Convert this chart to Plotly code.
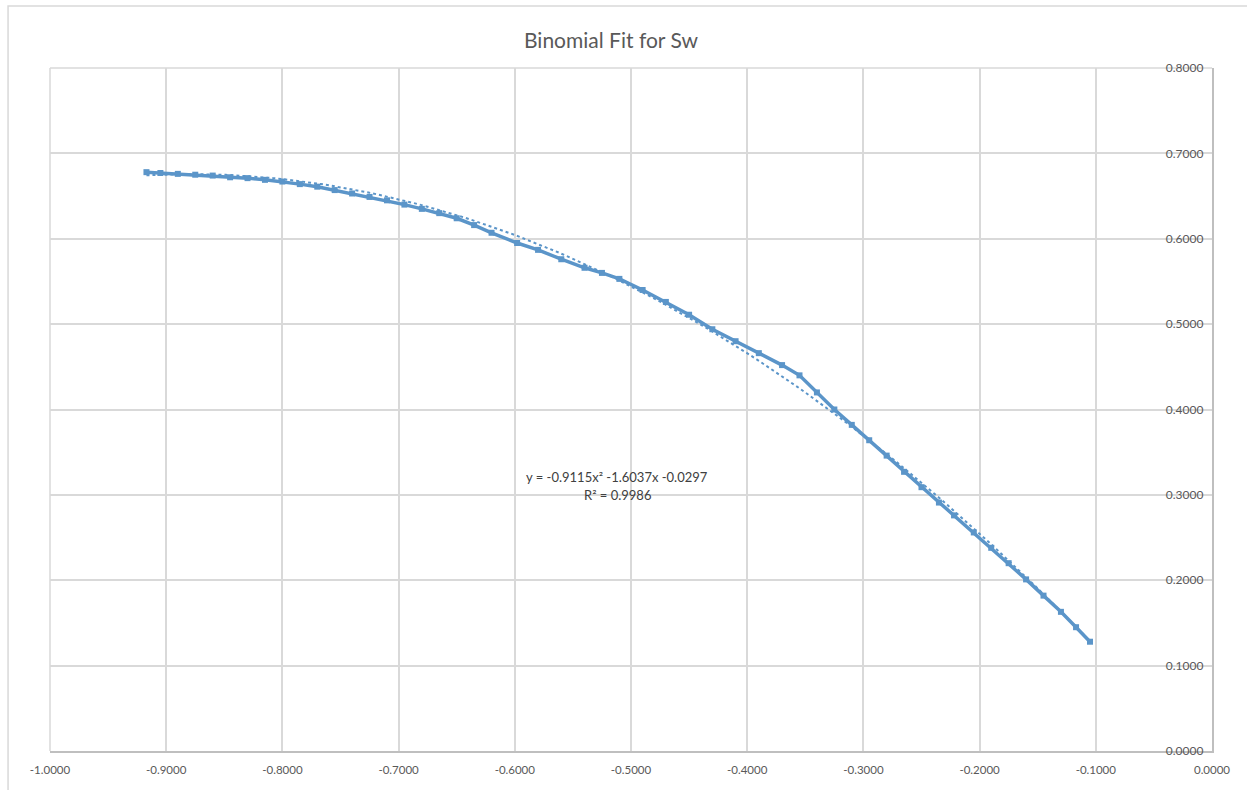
import plotly.graph_objects as go

# Data
sw_x = [-0.917, -0.905, -0.890, -0.875, -0.860, -0.845, -0.830, -0.815, -0.800, -0.785,
        -0.770, -0.755, -0.740, -0.725, -0.710, -0.695, -0.680, -0.665, -0.650, -0.635,
        -0.620, -0.598, -0.580, -0.560, -0.540, -0.525, -0.510, -0.490, -0.470, -0.450,
        -0.430, -0.410, -0.390, -0.370, -0.355, -0.340, -0.325, -0.310, -0.295, -0.280,
        -0.265, -0.250, -0.235, -0.222, -0.205, -0.190, -0.175, -0.160, -0.145, -0.130,
        -0.117, -0.105]
sw_y = [0.678, 0.677, 0.676, 0.675, 0.674, 0.672, 0.671, 0.669, 0.667, 0.664,
        0.661, 0.657, 0.653, 0.649, 0.645, 0.640, 0.635, 0.630, 0.624, 0.616,
        0.607, 0.595, 0.587, 0.576, 0.566, 0.560, 0.553, 0.540, 0.526, 0.511,
        0.494, 0.480, 0.466, 0.452, 0.440, 0.420, 0.400, 0.382, 0.364, 0.346,
        0.327, 0.309, 0.291, 0.276, 0.256, 0.238, 0.220, 0.201, 0.182, 0.163,
        0.145, 0.128]

# Trendline coefficients as printed on the chart (a, b, c for a*x^2 + b*x + c)
trend_coef = [-0.9115, -1.6037, -0.0297]
trend_x_range = [-0.917, -0.105]

x_tick_vals = [-1.0, -0.9, -0.8, -0.7, -0.6, -0.5, -0.4, -0.3, -0.2, -0.1, 0.0]
x_tick_text = ["-1.0000", "-0.9000", "-0.8000", "-0.7000", "-0.6000", "-0.5000",
               "-0.4000", "-0.3000", "-0.2000", "-0.1000", "0.0000"]
y_tick_vals = [0.0, 0.1, 0.2, 0.3, 0.4, 0.5, 0.6, 0.7, 0.8]
y_tick_text = ["0.0000", "0.1000", "0.2000", "0.3000", "0.4000", "0.5000",
               "0.6000", "0.7000", "0.8000"]

title_text = "Binomial Fit for Sw"
eq_text = "y = -0.9115x² -1.6037x -0.0297"
r2_text = "R² = 0.9986"

COLOR = "#5B95C9"
FONT = "Lato"

n = 120
tx = [trend_x_range[0] + (trend_x_range[1] - trend_x_range[0]) * i / (n - 1) for i in range(n)]
ty = [trend_coef[0] * v * v + trend_coef[1] * v + trend_coef[2] for v in tx]

fig = go.Figure()
fig.add_trace(go.Scatter(x=tx, y=ty, mode="lines",
                         line=dict(color=COLOR, width=2, dash="dot"),
                         showlegend=False, hoverinfo="skip"))
fig.add_trace(go.Scatter(x=sw_x, y=sw_y, mode="lines+markers",
                         line=dict(color=COLOR, width=3.5),
                         marker=dict(color=COLOR, size=6, symbol="square"),
                         showlegend=False))

fig.update_layout(
    width=1247, height=790,
    margin=dict(l=50, r=35, t=68, b=39),
    paper_bgcolor="white", plot_bgcolor="white",
    font=dict(family=FONT, color="#595959", size=11),
    xaxis=dict(range=[-1.0, 0.0], tickvals=x_tick_vals, ticktext=x_tick_text,
               showgrid=True, gridcolor="#D9D9D9", gridwidth=1.5,
               zeroline=False, showline=True, linecolor="#BFBFBF", linewidth=2,
               ticks="", tickfont=dict(size=11.5, color="#595959"),
               ticklabeloverflow="allow", ticklabelstandoff=7),
    yaxis=dict(range=[0.0, 0.8], tickvals=y_tick_vals, ticktext=y_tick_text,
               side="right", ticklabelposition="inside", ticklabeloverflow="allow",
               ticklabelstandoff=8,
               showgrid=True, gridcolor="#D9D9D9", gridwidth=1.5,
               zeroline=False, showline=True, linecolor="#BFBFBF", linewidth=2,
               ticks="", tickfont=dict(size=12, color="#595959")),
    shapes=[
        dict(type="rect", xref="paper", yref="paper",
             x0=-0.0361, x1=1.05, y0=-0.08, y1=1.0908,
             line=dict(color="#D9D9D9", width=1.5), layer="below"),
        dict(type="line", xref="paper", yref="paper",
             x0=0, x1=1, y0=1, y1=1, line=dict(color="#D9D9D9", width=1.5), layer="below"),
        dict(type="line", xref="paper", yref="paper",
             x0=0, x1=0, y0=0, y1=1, line=dict(color="#D9D9D9", width=1.5), layer="below"),
    ],
    annotations=[
        dict(text=title_text, xref="paper", yref="paper", x=0.483, y=1.041,
             yanchor="middle", showarrow=False,
             font=dict(size=21, color="#595959", family=FONT)),
        dict(text=eq_text, xref="x", yref="y", x=-0.512, y=0.321,
             showarrow=False, font=dict(size=13, color="#404040", family=FONT)),
        dict(text=r2_text, xref="x", yref="y", x=-0.512, y=0.300,
             showarrow=False, font=dict(size=13, color="#404040", family=FONT)),
    ],
)

fig.write_html("out.html", config={"displayModeBar": False},
               post_script="document.body.style.margin='0';")
